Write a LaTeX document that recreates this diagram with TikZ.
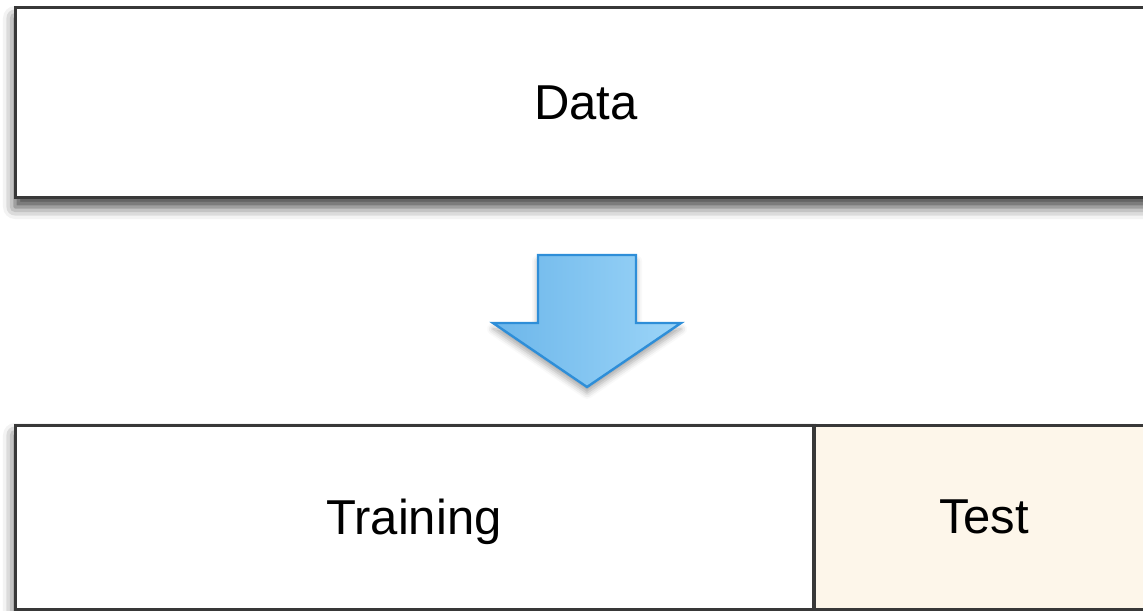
\documentclass[tikz,border=0pt]{standalone}
\usepackage{fontspec}
\setmainfont{Liberation Sans}
\usetikzlibrary{shadows.blur}
\definecolor{edge}{HTML}{383838}
\definecolor{cream}{HTML}{FDF6EA}
\definecolor{bluel}{HTML}{6CB6EA}
\definecolor{bluer}{HTML}{9CD5F8}
\definecolor{bluedge}{HTML}{2E8ED8}
\tikzset{
  box/.style = {draw=edge, line width=1.5pt, fill=white, inner sep=0pt,
    text depth=0pt, font=\fontsize{24.5}{29}\selectfont},
  shade box/.style = {blur shadow={shadow xshift=0pt, shadow yshift=-5pt,
    shadow blur radius=6pt, shadow opacity=75}}
}
\begin{document}
\begin{tikzpicture}[x=0.5pt, y=-0.5pt]
  \useasboundingbox (0,0) rectangle (1143,610);
  \clip (0,0) rectangle (1143,610);
  \node [box, shade box, minimum width=571pt, minimum height=94.5pt] (data) at (586,102.5) {Data};
  \node [box, shade box, minimum width=399pt, minimum height=92pt] (train) at (414,517) {Training};
  \node [box, fill=cream, minimum width=171pt, minimum height=92pt] (test) at (984,517) {Test};
  \draw [edge, line width=1.5pt] (train.north east) -- (train.south east);
  \shade [left color=bluel, right color=bluer, draw=bluedge, line width=1.2pt,
    blur shadow={shadow xshift=0pt, shadow yshift=-3pt, shadow blur radius=3pt, shadow opacity=35}]
    (538,255) -- (636,255) -- (636,323) -- (681,323) -- (587,387)
    -- (493,323) -- (538,323) -- cycle;
\end{tikzpicture}
\end{document}
